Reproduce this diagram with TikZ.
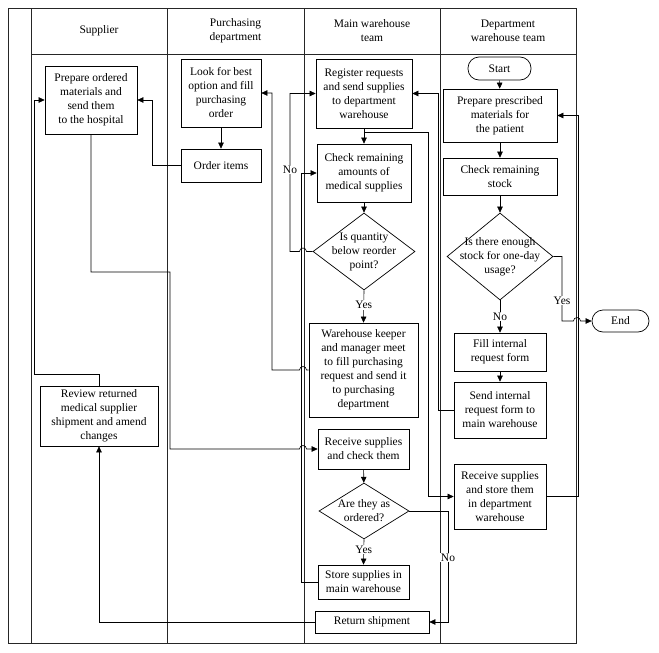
\documentclass[tikz,border=0pt]{standalone}
\usepackage{fontspec}
\setmainfont{Liberation Serif}
\usetikzlibrary{arrows.meta,shapes.geometric,calc}
\begin{document}
\begin{tikzpicture}[x=1pt,y=-1pt,
  every node/.style={font=\fontsize{11.5}{14}\selectfont},
  lane/.style={line width=0.8pt,draw=black!85},
  box/.style={draw,line width=0.7pt,align=center,inner sep=1pt},
  diam/.style={draw,line width=0.7pt,diamond,inner sep=0pt},
  term/.style={draw,line width=0.7pt,rounded corners=11pt,align=center,inner sep=1pt},
  arr/.style={line width=0.6pt,-{Triangle[length=6pt,width=5.5pt]}},
  ln/.style={line width=0.6pt},
  lbl/.style={fill=white,inner sep=1pt}
]
\useasboundingbox (0,0) rectangle (659,653);
% lanes
\draw[lane] (8,8) rectangle (576,643);
\foreach \xx in {31,167,304,440} \draw[lane] (\xx,8) -- (\xx,643);
\draw[lane] (31,54) -- (576,54);
\node[align=center] (h1) at (99,31) {Supplier};
\node[align=center] (h2) at (235.5,31) {Purchasing\\department};
\node[align=center] (h3) at (372,31) {Main warehouse\\team};
\node[align=center] (h4) at (508,31) {Department\\warehouse team};
% supplier
\node[box,minimum width=92pt,minimum height=68pt] (prep) at (91,100) {Prepare ordered\\materials and\\send them\\to the hospital};
\node[box,minimum width=118pt,minimum height=60pt] (review) at (99,416) {Review returned\\medical supplier\\shipment and amend\\changes};
% purchasing
\node[box,minimum width=80pt,minimum height=68pt] (look) at (221,93) {Look for best\\option and fill\\purchasing\\order};
\node[box,minimum width=80pt,minimum height=33pt] (order) at (221,165.5) {Order items};
% main warehouse
\node[box,minimum width=96pt,minimum height=69pt] (reg) at (364,93.5) {Register requests\\and send supplies\\to department\\warehouse};
\node[box,minimum width=94pt,minimum height=58pt] (chk) at (364,173) {Check remaining\\amounts of\\medical supplies};
\node[diam,minimum width=102pt,minimum height=77pt] (d1) at (364,251.5) {};
\node[align=center] (d1t) at (364,251.5) {Is quantity\\below reorder\\point?};
\node[box,minimum width=109pt,minimum height=94pt] (wk) at (363.5,370) {Warehouse keeper\\and manager meet\\to fill purchasing\\request and send it\\to purchasing\\department};
\node[box,minimum width=91pt,minimum height=40pt] (rcv) at (363.5,449) {Receive supplies\\and check them};
\node[diam,minimum width=90pt,minimum height=56pt] (d2) at (364,511) {};
\node[align=center] (d2t) at (364,511) {Are they as\\ordered?};
\node[box,minimum width=91pt,minimum height=34pt] (store) at (363.5,582) {Store supplies in\\main warehouse};
\node[box,minimum width=114pt,minimum height=22pt] (ret) at (372,622) {Return shipment};
% department
\node[term,minimum width=63pt,minimum height=23pt] (start) at (499.5,68.5) {Start};
\node[box,minimum width=114pt,minimum height=53pt] (pp) at (500,115.5) {Prepare prescribed\\materials for\\the patient};
\node[box,minimum width=114pt,minimum height=37pt] (crs) at (500,176.5) {Check remaining\\stock};
\node[diam,minimum width=106pt,minimum height=87pt] (d3) at (500,256.5) {};
\node[align=center] (d3t) at (500,256.5) {Is there enough\\stock for one-day\\usage?};
\node[box,minimum width=92pt,minimum height=38pt] (fill) at (500,352) {Fill internal\\request form};
\node[box,minimum width=92pt,minimum height=56pt] (send) at (500,410) {Send internal\\request form to\\main warehouse};
\node[box,minimum width=92pt,minimum height=65pt] (rsd) at (500,496.5) {Receive supplies\\and store them\\in department\\warehouse};
\node[term,minimum width=57pt,minimum height=22pt] (end) at (620.5,321) {End};
% connectors department
\draw[arr] (start) -- (pp);
\draw[arr] (pp) -- (crs);
\draw[arr] (crs) -- (d3);
\draw[arr] (d3.south) -- node[lbl] (lno3) {No} (fill.north);
\draw[arr] (fill) -- (send);
\draw[arr] (d3.east) -- (562,256.5) -- node[lbl,pos=0.68] (lyes3) {Yes} (562,321) -- (573.5,321) arc[start angle=180,end angle=360,radius=3.5] -- (end.west);
\draw[arr] (send.west) -- (438,410) |- (reg.east);
\draw[arr] (rsd.east) -- (578,496.5) |- (pp.east);
% main warehouse
\draw[arr] (reg) -- (chk);
\draw[arr] ($(reg.south)+(0,4)$) -| (428,496.5) -- (rsd.west);
\draw[arr] (chk) -- (d1);
\draw[arr] (d1.south) -- node[lbl,pos=0.45] (lyes1) {Yes} (wk.north);
\draw[arr] (d1.west) -- (306.5,251.5) arc[start angle=0,end angle=-180,radius=3.5] -- (290,251.5) -- node[lbl,pos=0.52] (lno1) {No} (290,93.5) -- (reg.west);
\draw[arr] (wk.west) -- (306.5,370) arc[start angle=0,end angle=-180,radius=3.5] -- (272,370) |- (look.east);
\draw[arr] (store.west) -- (301,582) |- (chk.west);
\draw[arr] (rcv) -- (d2);
\draw[arr] (d2.south) -- node[lbl,pos=0.4] (lyes2) {Yes} (store.north);
\draw[arr] (d2.east) -- (448,511) -- node[lbl,pos=0.42] (lno2) {No} (448,622) -- (ret.east);
\draw[arr] (ret.west) -| (review.south);
% supplier / purchasing
\draw[arr] (review.north) -- (99,374) -- (34,374) |- (prep.west);
\draw[arr] (look) -- (order);
\draw[arr] (order.west) -- (152,165.5) |- (prep.east);
\draw[arr] (prep.south) -- (91,272) -- (170,272) -- (170,449) -- (299.5,449) arc[start angle=180,end angle=360,radius=3.5] -- (rcv.west);
\end{tikzpicture}
\end{document}
